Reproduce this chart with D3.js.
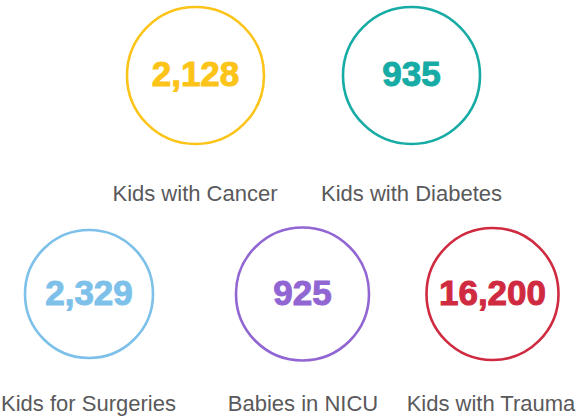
<!DOCTYPE html>
<html>
<head>
<meta charset="utf-8">
<script src="https://cdn.jsdelivr.net/npm/d3@7"></script>
<style>
  html, body { margin: 0; padding: 0; background: #fff; }
  #chart { width: 577px; height: 417px; overflow: hidden; }
</style>
</head>
<body>
<div id="chart"></div>
<script>
// data
const categories = ['Kids with Cancer', 'Kids with Diabetes', 'Kids for Surgeries', 'Babies in NICU', 'Kids with Trauma'];
const counts = [2128, 935, 2329, 925, 16200];
const rows = [0, 0, 1, 1, 1];

// styles
const colors = ['#fcc419', '#16aba4', '#7dc1ea', '#9166d3', '#cf2a40'];

const width = 577;
const height = 417;

const svg = d3.select('#chart')
  .append('svg')
  .attr('width', width)
  .attr('height', height);

// layout scales
const x = d3.scaleOrdinal().domain(categories).range([195.5, 411.5, 89, 302.5, 492.5]);
const labelX = d3.scaleOrdinal().domain(categories).range([195, 411.5, 88.5, 303, 491]);
const y = d3.scaleOrdinal().domain([0, 1]).range([75.5, 294]);
const r = d3.scaleOrdinal().domain(categories).range([68.5, 68.5, 64, 66.5, 66]);
const labelY = d3.scaleOrdinal().domain([0, 1]).range([201, 411]);
const color = d3.scaleOrdinal().domain(categories).range(colors);
const fmt = d3.format(',');

const items = categories.map((c, i) => ({ name: c, value: counts[i], row: rows[i] }));

const g = svg.selectAll('g.item')
  .data(items)
  .join('g')
  .attr('class', 'item');

g.append('circle')
  .attr('cx', d => x(d.name))
  .attr('cy', d => y(d.row))
  .attr('r', d => r(d.name))
  .attr('fill', 'none')
  .attr('stroke', d => color(d.name))
  .attr('stroke-width', 2.6);

g.append('text')
  .attr('x', d => x(d.name))
  .attr('y', d => y(d.row) + 10.5)
  .attr('text-anchor', 'middle')
  .style('font-family', '"Liberation Sans", Arial, sans-serif')
  .style('font-weight', 'bold')
  .style('font-size', '35px')
  .style('fill', d => color(d.name))
  .style('stroke', d => color(d.name))
  .style('stroke-width', 1)
  .text(d => fmt(d.value));

g.append('text')
  .attr('x', d => labelX(d.name))
  .attr('y', d => labelY(d.row))
  .attr('text-anchor', 'middle')
  .style('font-family', '"Liberation Sans", Arial, sans-serif')
  .style('font-size', '22px')
  .style('fill', '#59595b')
  .text(d => d.name);
</script>
</body>
</html>
